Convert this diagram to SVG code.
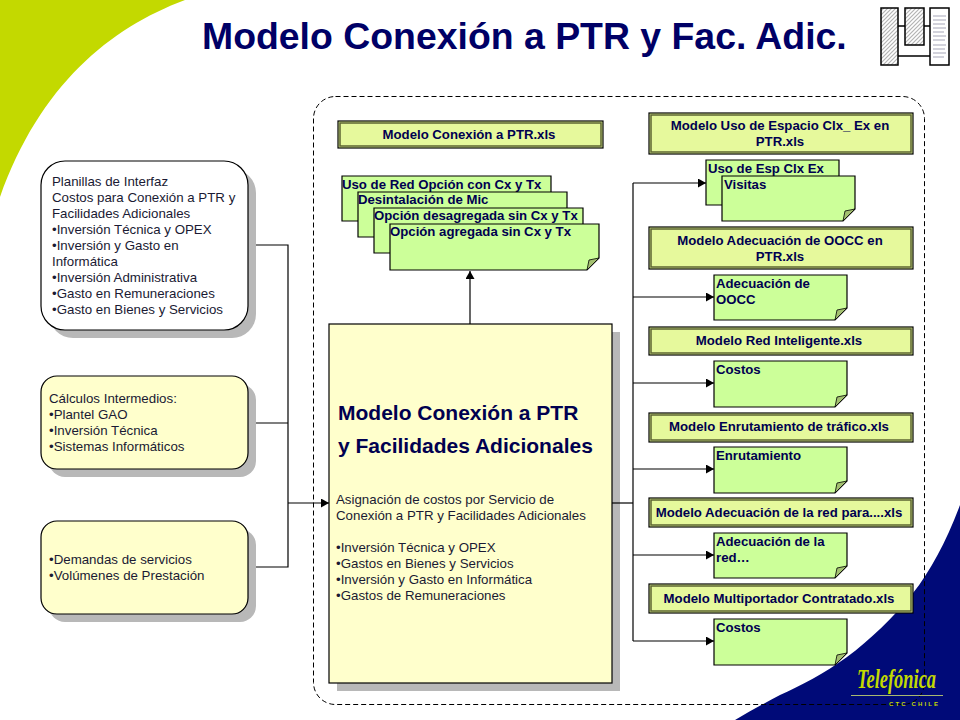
<svg xmlns="http://www.w3.org/2000/svg" width="960" height="720" viewBox="0 0 960 720">
<style>
text{font-family:"Liberation Sans",Arial,sans-serif}
.title{font-size:37.4px;font-weight:700;fill:#000066}
.hd{fill:#e6f99c;stroke:#000;stroke-width:1.2}
.hi{fill:none;stroke:#5c6430;stroke-width:1.5}
.ht{font-size:13.2px;font-weight:700;fill:#000050;text-anchor:middle}
.note{fill:#ccff99;stroke:#000;stroke-width:1.2}
.fold{fill:#a3c070;stroke:#000;stroke-width:.8}
.nt{font-size:13.2px;font-weight:700;fill:#000050}
.sh{fill:#b8b8b8}
.box{fill:#ffffcc;stroke:#000;stroke-width:1.2}
.bt{font-size:13.3px;fill:#1a1a33}
.c{fill:none;stroke:#000;stroke-width:1.2}
.th{fill:url(#hatch);stroke:#000;stroke-width:1.5}
</style>
<defs>
<marker id="a" markerUnits="userSpaceOnUse" markerWidth="10" markerHeight="10" refX="8" refY="4.5" orient="auto"><path d="M0 0L8 4.5L0 9Z" fill="#000"/></marker>
<pattern id="hatch" patternUnits="userSpaceOnUse" width="4" height="4"><rect width="4" height="4" fill="#fff"/><path d="M-1 1L1 -1M0 4L4 0M3 5L5 3" stroke="#b4b4b4" stroke-width="1.2"/></pattern>
</defs>
<rect width="960" height="720" fill="#fff"/>
<path id="green-corner" d="M0 0H185C110 28 40 85 0 197Z" fill="#c3d900"/>
<path id="blue-corner" d="M960 505C947 540 930 572 913 593C893 618 870 640 847 657C825 673 800 686 780 695C765 703 750 711 735 720H960Z" fill="#000a78"/>
<text class="title" x="202" y="49">Modelo Conexión a PTR y Fac. Adic.</text>
<g id="thumbnail">
<path d="M898 26H905M924 26H930M898 56H930" stroke="#000" stroke-width="1.5" fill="none"/>
<rect class="th" x="881" y="8" width="17" height="57"/>
<rect class="th" x="905" y="8" width="19" height="37"/>
<rect x="930" y="8" width="19" height="57" fill="#fff" stroke="#000" stroke-width="1.5"/>
<path d="M933 16H946M933 20H946M933 24H945M933 28H946M933 32H944M933 36H946M933 40H945M933 45H946M933 49H945M933 53H946M933 57H944" stroke="#c4c4d0" stroke-width="1.5"/>
</g>
<rect id="frame" x="313.500" y="96.500" width="611" height="608" rx="22" fill="none" stroke="#000" stroke-dasharray="5 3"/>
<g id="input-1">
<rect class="sh" x="49" y="169" width="207" height="169" rx="24"/>
<rect class="box" style="fill:#fff" x="41" y="161" width="207" height="169" rx="24"/>
<text class="bt"><tspan x="52" y="186">Planillas de Interfaz</tspan><tspan x="52" y="202">Costos para Conexión a PTR y</tspan><tspan x="52" y="218">Facilidades Adicionales</tspan><tspan x="52" y="234">•Inversión Técnica  y OPEX</tspan><tspan x="52" y="250">•Inversión y Gasto en</tspan><tspan x="52" y="266">Informática</tspan><tspan x="52" y="282">•Inversión Administrativa</tspan><tspan x="52" y="298">•Gasto en Remuneraciones</tspan><tspan x="52" y="314">•Gasto en Bienes y Servicios</tspan></text>
</g>
<g id="input-2">
<rect class="sh" x="49" y="384" width="207" height="93" rx="16"/>
<rect class="box" x="41" y="376" width="207" height="93" rx="16"/>
<text class="bt"><tspan x="49" y="403">Cálculos Intermedios:</tspan><tspan x="49" y="419">•Plantel GAO</tspan><tspan x="49" y="435">•Inversión Técnica</tspan><tspan x="49" y="451">•Sistemas Informáticos</tspan></text>
</g>
<g id="input-3">
<rect class="sh" x="49" y="529" width="207" height="93" rx="16"/>
<rect class="box" x="41" y="521" width="207" height="93" rx="16"/>
<text class="bt"><tspan x="49" y="564">•Demandas de servicios</tspan><tspan x="49" y="580">•Volúmenes de Prestación</tspan></text>
</g>
<g id="main">
<rect class="sh" x="337" y="332" width="283" height="359"/>
<rect class="box" x="329" y="324" width="283" height="359"/>
<text font-size="21" font-weight="700" fill="#000050"><tspan x="338" y="420">Modelo Conexión a PTR</tspan><tspan x="338" y="453">y Facilidades Adicionales</tspan></text>
<text class="bt"><tspan x="336" y="504">Asignación de costos por Servicio de</tspan><tspan x="336" y="520">Conexión a PTR y Facilidades Adicionales</tspan><tspan x="336" y="552">•Inversión Técnica  y OPEX</tspan><tspan x="336" y="568">•Gastos en Bienes y Servicios</tspan><tspan x="336" y="584">•Inversión y Gasto en Informática</tspan><tspan x="336" y="600">•Gastos de Remuneraciones</tspan></text>
</g>
<g id="h-ptr"><rect class="hd" x="338" y="121" width="265" height="27"/><rect class="hi" x="340" y="123" width="261" height="23"/><text class="ht" x="469" y="139">Modelo Conexión  a PTR.xls</text></g>
<g id="n-uso-red"><path class="note" d="M342 176H551V221H342Z"/><text class="nt" x="342" y="189">Uso  de Red Opción con  Cx y Tx</text></g>
<g id="n-desint"><path class="note" d="M358 192H567V237H358Z"/><text class="nt" x="358" y="204">Desintalación  de Mic</text></g>
<g id="n-desag"><path class="note" d="M374 208H583V253H374Z"/><text class="nt" x="374" y="220">Opción desagregada  sin Cx y Tx</text></g>
<g id="n-agreg"><path class="note" d="M390 224H599V258L587 270H390Z"/><path class="fold" d="M587 270L589 260L599 258Z"/><text class="nt" x="390" y="236">Opción agregada  sin Cx y Tx</text></g>
<g id="h-espacio"><rect class="hd" x="649" y="113" width="264" height="41"/><rect class="hi" x="651" y="115" width="260" height="37"/><text class="ht"><tspan x="780" y="130">Modelo Uso  de Espacio Clx_ Ex en</tspan><tspan x="780" y="146">PTR.xls</tspan></text></g>
<g id="n-uso-esp"><path class="note" d="M706 160H839V205H706Z"/><text class="nt" x="708" y="173">Uso  de Esp Clx Ex</text></g>
<g id="n-visitas"><path class="note" d="M722 176H855V209L843 221H722Z"/><path class="fold" d="M843 221L845 211L855 209Z"/><text class="nt" x="724" y="189">Visitas</text></g>
<g id="h-oocc"><rect class="hd" x="649" y="227" width="264" height="42"/><rect class="hi" x="651" y="229" width="260" height="38"/><text class="ht"><tspan x="780" y="245">Modelo Adecuación  de OOCC  en</tspan><tspan x="780" y="261">PTR.xls</tspan></text></g>
<g id="n-oocc"><path class="note" d="M714 275H847V308L835 320H714Z"/><path class="fold" d="M835 320L837 310L847 308Z"/><text class="nt"><tspan x="716" y="288">Adecuación  de</tspan><tspan x="716" y="304">OOCC</tspan></text></g>
<g id="h-red"><rect class="hd" x="649" y="327" width="264" height="28"/><rect class="hi" x="651" y="329" width="260" height="24"/><text class="ht" x="779" y="345">Modelo Red Inteligente.xls</text></g>
<g id="n-costos1"><path class="note" d="M714 361H847V395L835 407H714Z"/><path class="fold" d="M835 407L837 397L847 395Z"/><text class="nt" x="716" y="374">Costos</text></g>
<g id="h-enr"><rect class="hd" x="649" y="413" width="264" height="29"/><rect class="hi" x="651" y="415" width="260" height="25"/><text class="ht" x="779" y="431">Modelo Enrutamiento  de tráfico.xls</text></g>
<g id="n-enr"><path class="note" d="M714 447H847V481L835 493H714Z"/><path class="fold" d="M835 493L837 483L847 481Z"/><text class="nt" x="716" y="460">Enrutamiento</text></g>
<g id="h-adec"><rect class="hd" x="649" y="498" width="264" height="29"/><rect class="hi" x="651" y="500" width="260" height="25"/><text class="ht" x="779" y="517">Modelo Adecuación  de la red para....xls</text></g>
<g id="n-adec"><path class="note" d="M714 533H847V566L835 578H714Z"/><path class="fold" d="M835 578L837 568L847 566Z"/><text class="nt"><tspan x="716" y="546">Adecuación  de la</tspan><tspan x="716" y="562">red…</tspan></text></g>
<g id="h-multi"><rect class="hd" x="649" y="584" width="264" height="29"/><rect class="hi" x="651" y="586" width="260" height="25"/><text class="ht" x="779" y="603">Modelo Multiportador  Contratado.xls</text></g>
<g id="n-costos2"><path class="note" d="M714 619H847V653L835 665H714Z"/><path class="fold" d="M835 665L837 655L847 653Z"/><text class="nt" x="716" y="632">Costos</text></g>
<g id="connectors">
<path class="c" d="M256 245H288V567H256M256 423H288"/>
<path class="c" d="M288 503H329" marker-end="url(#a)"/>
<path class="c" d="M470 324V271" marker-end="url(#a)"/>
<path class="c" d="M612 503H633"/>
<path class="c" d="M633 183V641"/>
<path class="c" d="M633 183H706" marker-end="url(#a)"/>
<path class="c" d="M633 297H714" marker-end="url(#a)"/>
<path class="c" d="M633 383H714" marker-end="url(#a)"/>
<path class="c" d="M633 469H714" marker-end="url(#a)"/>
<path class="c" d="M633 555H714" marker-end="url(#a)"/>
<path class="c" d="M633 641H714" marker-end="url(#a)"/>
</g>
<g id="logo">
<text x="857" y="688" font-size="27" font-style="italic" font-weight="700" fill="#c3d900" style="font-family:'Liberation Serif',serif" textLength="79" lengthAdjust="spacingAndGlyphs">Telefónica</text>
<path d="M851 695.500H943" stroke="#a8b870" stroke-width="1"/>
<text x="889" y="706" font-size="6" font-weight="700" fill="#c3d900" textLength="49">CTC CHILE</text>
</g>
</svg>
